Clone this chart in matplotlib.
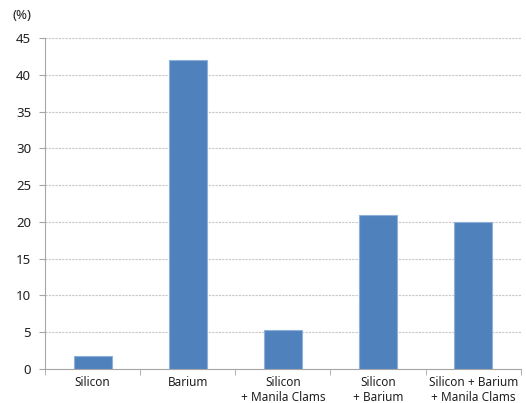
import numpy as np
import matplotlib
matplotlib.use("Agg")
import matplotlib.pyplot as plt
from matplotlib.ticker import FixedLocator

categories = ["Silicon", "Barium", "Silicon\n+ Manila Clams", "Silicon\n+ Barium",
              "Silicon + Barium\n+ Manila Clams"]
values = [1.8, 42.0, 5.3, 21.0, 20.0]
y_ticks = [0, 5, 10, 15, 20, 25, 30, 35, 40, 45]

plt.rcParams["font.family"] = ["Noto Sans", "DejaVu Sans"]

fig = plt.figure(figsize=(5.26, 4.03), dpi=100)
ax = fig.add_axes([0.0856, 0.0844, 0.9044, 0.8213])

x = np.arange(len(categories))
ax.bar(x, values, width=0.4, color="#4F81BD", edgecolor="#8FB0D8", linewidth=0.8, zorder=3)

ax.set_xlim(-0.5, len(categories) - 0.5)
ax.set_ylim(0, 45)
ax.set_yticks(y_ticks)
ax.yaxis.grid(True, linestyle=(0, (2, 1)), color="#C8C8C8", linewidth=0.8, zorder=0)

ax.set_xticks(x)
ax.set_xticklabels(categories, fontsize=8.5, color="#202020", linespacing=1.25)
ax.tick_params(axis="x", length=0, pad=5)
# category separators on the x axis
ax.xaxis.set_minor_locator(FixedLocator(np.arange(-0.5, len(categories), 1.0)))
ax.tick_params(axis="x", which="minor", length=4, color="#A6A6A6")
ax.tick_params(axis="y", length=4, color="#A6A6A6", labelsize=9.5, labelcolor="#202020", pad=6)

for side in ["top", "right"]:
    ax.spines[side].set_visible(False)
for side in ["left", "bottom"]:
    ax.spines[side].set_color("#A6A6A6")
    ax.spines[side].set_linewidth(0.8)

fig.text(0.023, 0.962, "(%)", fontsize=9.5, color="#202020", va="center", ha="left")

fig.savefig("out.png", dpi=100)
